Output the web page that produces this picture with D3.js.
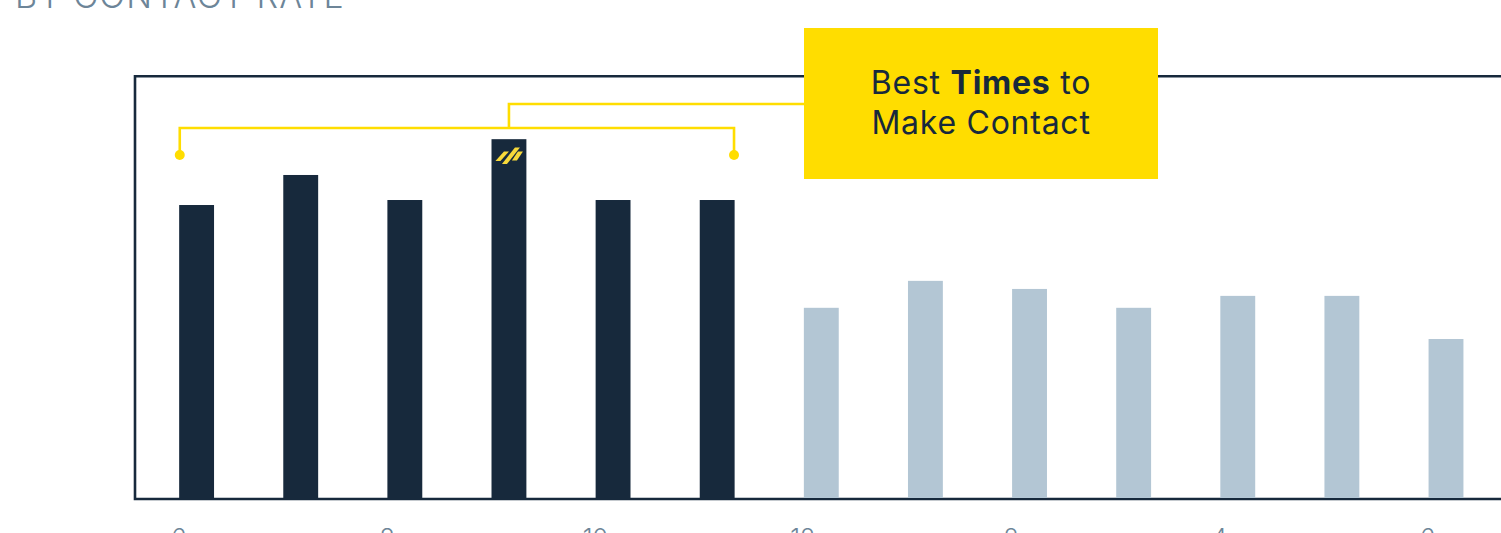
<!DOCTYPE html>
<html><head><meta charset="utf-8">
<script src="https://cdn.jsdelivr.net/npm/d3@7/dist/d3.min.js"></script>
<style>html,body{margin:0;padding:0;background:#fff;overflow:hidden}svg{display:block}text{font-family:Inter,"Open Sans",sans-serif}</style>
</head><body>
<svg id="c" width="1501" height="533"></svg>
<script>
const categories = ["6am","7am","8am","9am","10am","11am","12pm","1pm","2pm","3pm","4pm","5pm","6pm"];
const tickLabels = ["6am","8am","10am","12pm","2pm","4pm","6pm"];
const rates = [7.61,8.39,7.74,9.32,7.74,7.74,4.94,5.64,5.43,4.94,5.25,5.25,4.13];
const best = ["6am","7am","8am","9am","10am","11am"];
const titleText = "BY CONTACT RATE";
const dark="#17293c", light="#b3c6d4", yellow="#ffdd00", grey="#6d8598";

const svg=d3.select("#c");
const x=d3.scaleBand().domain(categories).range([144.8,1497.8]).paddingInner(0.665).paddingOuter(0.33);
const y=d3.scaleLinear().domain([0,10]).range([498,113]);
const frameLeft=135, frameTop=76.3, frameBottom=499;

svg.append("text").attr("x",15).attr("y",8).attr("font-size",34).attr("letter-spacing",1.3).attr("fill",grey).attr("font-weight",350).text(titleText);

svg.append("path").attr("d",`M1501 ${frameTop}H${frameLeft}V${frameBottom}H1501`).attr("fill","none").attr("stroke",dark).attr("stroke-width",2.6);

svg.selectAll("rect.bar").data(categories).join("rect").attr("class","bar")
 .attr("x",d=>x(d)).attr("width",x.bandwidth())
 .attr("y",(d,i)=>y(rates[i])).attr("height",(d,i)=>y(0)-y(rates[i]))
 .attr("fill",d=>best.includes(d)?dark:light);

const xa=d3.axisBottom(x).tickValues(tickLabels).tickSize(0).tickPadding(0);
const ag=svg.append("g").attr("transform","translate(0,529)").call(xa);
ag.select(".domain").remove();
ag.selectAll("text").attr("font-size",25).attr("fill",grey).attr("font-weight",350).attr("dy","0.72em").attr("y",0);

// bracket
const first=x(best[0]), last=x(best[best.length-1])+x.bandwidth();
const midBar=x("9am")+x.bandwidth()/2;
const bracket=svg.append("g").attr("fill","none").attr("stroke",yellow).attr("stroke-width",2.6);
bracket.append("path").attr("d",`M${first+0.6} 155V128H${last-0.6}V155`);
bracket.append("path").attr("d",`M${midBar} 128V104H806`);
svg.selectAll("circle.dot").data([first+0.6,last-0.6]).join("circle").attr("class","dot").attr("cx",d=>d).attr("cy",155).attr("r",5).attr("fill",yellow);

// logo
const lg=svg.append("g").attr("transform",`translate(${midBar},155)`).attr("fill","#f8d93a");
["M-13.5 6L-5 -3.5H0L-8.5 6Z","M-7 9L6 -7.5H11L-2 9Z","M3 5.5L9 -3.5H14L8 5.5Z"].forEach(p=>lg.append("path").attr("d",p));

// callout
svg.append("rect").attr("x",804).attr("y",28).attr("width",354).attr("height",151).attr("fill",yellow);
const t1=svg.append("text").attr("x",981).attr("y",94).attr("text-anchor","middle").attr("font-size",32).attr("letter-spacing",0.75).attr("fill",dark).attr("font-weight",400);
t1.append("tspan").text("Best ");
t1.append("tspan").attr("font-weight",700).text("Times");
t1.append("tspan").text(" to");
svg.append("text").attr("x",981).attr("y",134).attr("text-anchor","middle").attr("font-size",32).attr("letter-spacing",0.75).attr("fill",dark).attr("font-weight",400).text("Make Contact");
</script></body></html>
